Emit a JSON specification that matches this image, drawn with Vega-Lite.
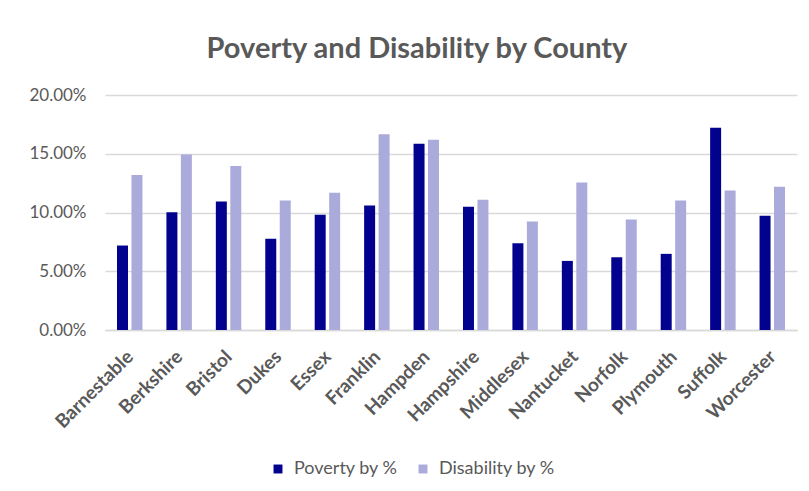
{
  "$schema": "https://vega.github.io/schema/vega-lite/v6.json",
  "width": 692,
  "height": 235,
  "autosize": {"type": "none"},
  "padding": {"left": 105, "top": 95, "right": 12, "bottom": 161},
  "background": "white",
  "title": {
    "text": "Poverty and Disability by County",
    "anchor": "middle",
    "dx": -34,
    "offset": 22,
    "font": "Lato",
    "fontSize": 29,
    "fontWeight": "bold",
    "color": "#595959"
  },
  "data": {
    "values": [
      {"county": "Barnestable", "measure": "Poverty by %", "value": 0.0719},
      {"county": "Barnestable", "measure": "Disability by %", "value": 0.132},
      {"county": "Berkshire", "measure": "Poverty by %", "value": 0.1003},
      {"county": "Berkshire", "measure": "Disability by %", "value": 0.1494},
      {"county": "Bristol", "measure": "Poverty by %", "value": 0.1094},
      {"county": "Bristol", "measure": "Disability by %", "value": 0.1395},
      {"county": "Dukes", "measure": "Poverty by %", "value": 0.0776},
      {"county": "Dukes", "measure": "Disability by %", "value": 0.1102},
      {"county": "Essex", "measure": "Poverty by %", "value": 0.098},
      {"county": "Essex", "measure": "Disability by %", "value": 0.1168},
      {"county": "Franklin", "measure": "Poverty by %", "value": 0.106},
      {"county": "Franklin", "measure": "Disability by %", "value": 0.1665},
      {"county": "Hampden", "measure": "Poverty by %", "value": 0.1586},
      {"county": "Hampden", "measure": "Disability by %", "value": 0.162},
      {"county": "Hampshire", "measure": "Poverty by %", "value": 0.1049},
      {"county": "Hampshire", "measure": "Disability by %", "value": 0.1108},
      {"county": "Middlesex", "measure": "Poverty by %", "value": 0.0738},
      {"county": "Middlesex", "measure": "Disability by %", "value": 0.0923},
      {"county": "Nantucket", "measure": "Poverty by %", "value": 0.0588},
      {"county": "Nantucket", "measure": "Disability by %", "value": 0.1256},
      {"county": "Norfolk", "measure": "Poverty by %", "value": 0.0619},
      {"county": "Norfolk", "measure": "Disability by %", "value": 0.094},
      {"county": "Plymouth", "measure": "Poverty by %", "value": 0.0648},
      {"county": "Plymouth", "measure": "Disability by %", "value": 0.1102},
      {"county": "Suffolk", "measure": "Poverty by %", "value": 0.1722},
      {"county": "Suffolk", "measure": "Disability by %", "value": 0.1188},
      {"county": "Worcester", "measure": "Poverty by %", "value": 0.0972},
      {"county": "Worcester", "measure": "Disability by %", "value": 0.1219}
    ]
  },
  "mark": {"type": "bar"},
  "encoding": {
    "x": {
      "field": "county",
      "type": "nominal",
      "sort": null,
      "scale": {"paddingInner": 0.485, "paddingOuter": 0.2425},
      "axis": {
        "title": null,
        "labelAngle": -45,
        "labelFont": "Lato",
        "labelFontSize": 19,
        "labelFontWeight": "bold",
        "labelColor": "#595959",
        "labelPadding": 17,
        "labelOffset": -6,
        "ticks": false,
        "domainColor": "#d9d9d9",
        "domainWidth": 1.5
      }
    },
    "xOffset": {
      "field": "measure",
      "type": "nominal",
      "sort": ["Poverty by %", "Disability by %"],
      "scale": {"paddingInner": 0.24, "paddingOuter": 0}
    },
    "y": {
      "field": "value",
      "type": "quantitative",
      "scale": {"domain": [0, 0.2]},
      "axis": {
        "title": null,
        "format": ".2%",
        "values": [0, 0.05, 0.1, 0.15, 0.2],
        "labelFont": "Lato",
        "labelFontSize": 17,
        "labelColor": "#595959",
        "labelPadding": 19,
        "ticks": false,
        "domain": false,
        "gridColor": "#d9d9d9",
        "gridWidth": 1.5
      }
    },
    "color": {
      "field": "measure",
      "type": "nominal",
      "sort": ["Poverty by %", "Disability by %"],
      "scale": {"domain": ["Poverty by %", "Disability by %"], "range": ["#02028f", "#aaaadb"]},
      "legend": {
        "title": null,
        "orient": "none",
        "direction": "horizontal",
        "legendX": 164,
        "legendY": 365,
        "symbolType": "square",
        "symbolSize": 80,
        "symbolStrokeWidth": 0,
        "labelFont": "Lato",
        "labelFontSize": 18,
        "labelColor": "#595959",
        "columnPadding": 16,
        "labelOffset": 7
      }
    }
  },
  "config": {"view": {"stroke": null}}
}
